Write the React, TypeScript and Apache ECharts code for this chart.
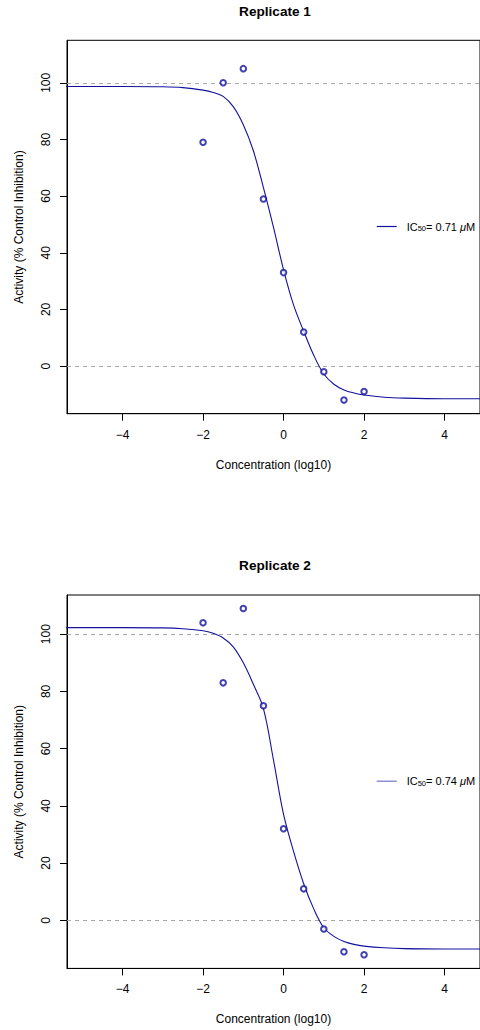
import React, { useEffect, useRef } from "react";
import * as echarts from "echarts";

// ---- data ----
const titles = ["Replicate 1", "Replicate 2"];
const ic50Labels = ["0.71", "0.74"];
const doseLog = [-2, -1.5, -1, -0.5, 0, 0.5, 1, 1.5, 2];
const rep1Activity = [79, 100, 105, 59, 33, 12, -2, -12, -9];
const rep2Activity = [104, 83, 109, 75, 32, 11, -3, -11, -12];
const curveX = [-5.5, -4, -3, -2.5, -2, -1.75, -1.5, -1.25, -1, -0.75, -0.5, -0.25, 0, 0.25, 0.5, 0.75, 1, 1.25, 1.5, 1.75, 2, 2.5, 3, 4, 5];
const curve1Y = [98.7, 98.7, 98.6, 98.3, 97.4, 96.6, 95.2, 91.6, 85.2, 76, 63, 49, 34, 21.5, 12.3, 3.8, -2.8, -6.4, -8.4, -9.5, -10.2, -11, -11.3, -11.5, -11.5];
const curve2Y = [102.3, 102.3, 102.2, 101.9, 101.2, 100.3, 98.7, 95.6, 90, 82.5, 74, 56, 37, 24, 12.8, 4, -2.6, -5.6, -7.4, -8.4, -9, -9.6, -9.9, -10, -10];
const xTicks = [-4, -2, 0, 2, 4];
const yTicks = [0, 20, 40, 60, 80, 100];
const refLines = [0, 100];
const xRange = [-5.38, 4.88];
const yRanges = [
  [-16.8, 115],
  [-16.8, 113.7],
];

const FONT = "'Liberation Sans', Arial, Helvetica, sans-serif";
const BLUE = "#12129e";

export default function App() {
  const ref = useRef<HTMLDivElement>(null);

  useEffect(() => {
    if (!ref.current) return;
    const chart = echarts.init(ref.current, null, { renderer: "svg" });

    const gridTops = [40.3, 595];
    const gridH = 373.4;
    const legendLineColors = [BLUE, "#7272c8"];
    const curves = [curve1Y, curve2Y];
    const reps = [rep1Activity, rep2Activity];
    const seriesNames = ["fit1", "fit2"];

    const minus = (v: number) => (v < 0 ? "\u2212" + Math.abs(v) : String(v));

    const option: any = {
      animation: false,
      backgroundColor: "#ffffff",
      textStyle: { fontFamily: FONT },
      title: titles.map((t, i) => ({
        text: t,
        left: 275,
        top: i === 0 ? 11.7 : 565.7,
        textAlign: "center",
        textVerticalAlign: "middle",
        padding: 0,
        textStyle: { fontFamily: FONT, fontWeight: "bold", fontSize: 13.6, color: "#000" },
      })),
      grid: gridTops.map((top) => ({
        left: 67,
        top,
        width: 416.5,
        height: gridH,
        show: true,
        borderColor: "#000",
        borderWidth: 1,
      })),
      xAxis: gridTops.map((_, i) => ({
        type: "value",
        gridIndex: i,
        min: xRange[0],
        max: xRange[1],
        name: "Concentration (log10)",
        nameLocation: "middle",
        nameGap: 45,
        nameTextStyle: { fontFamily: FONT, fontSize: 12, color: "#000" },
        axisLine: { show: true, onZero: false, lineStyle: { color: "#000", width: 1 } },
        splitLine: { show: false },
        axisTick: { show: true, length: 7, customValues: xTicks, lineStyle: { color: "#000", width: 1 } },
        axisLabel: {
          customValues: xTicks,
          margin: 15,
          fontFamily: FONT,
          fontSize: 12,
          color: "#000",
          formatter: (v: number) => minus(v),
        },
      })),
      yAxis: gridTops.map((_, i) => ({
        type: "value",
        gridIndex: i,
        min: yRanges[i][0],
        max: yRanges[i][1],
        name: "Activity (% Control Inhibition)",
        nameLocation: "middle",
        nameGap: 42,
        nameTextStyle: { fontFamily: FONT, fontSize: 12, color: "#000" },
        axisLine: { show: true, onZero: false, lineStyle: { color: "#000", width: 1 } },
        splitLine: { show: false },
        axisTick: { show: true, length: 7, customValues: yTicks, lineStyle: { color: "#000", width: 1 } },
        axisLabel: {
          customValues: yTicks,
          rotate: 90,
          margin: 15,
          fontFamily: FONT,
          fontSize: 12,
          color: "#000",
        },
      })),
      legend: gridTops.map((top, i) => ({
        data: [seriesNames[i]],
        left: 376.7,
        top: top + gridH / 2 - 6,
        padding: 0,
        icon: "rect",
        itemWidth: 20,
        itemHeight: 1.2,
        itemStyle: { color: legendLineColors[i] },
        formatter: () => `{n|IC}{s|50}{n|= ${ic50Labels[i]} }{i|\u03bc}{n|M}`,
        textStyle: {
          fontFamily: FONT,
          color: "#000",
          fontSize: 11,
          padding: [0, 0, 0, 5],
          rich: {
            n: { fontFamily: FONT, fontSize: 11, color: "#000" },
            s: { fontFamily: FONT, fontSize: 7.5, color: "#000", verticalAlign: "bottom", padding: [4, 0, 0, 0] },
            i: { fontFamily: FONT, fontSize: 11, color: "#000", fontStyle: "italic" },
          },
        },
        selectedMode: false,
      })),
      series: [
        ...gridTops.map((_, i) => ({
          name: seriesNames[i],
          type: "line",
          xAxisIndex: i,
          yAxisIndex: i,
          data: curveX.map((x, k) => [x, curves[i][k]]),
          smooth: 0.35,
          symbol: "none",
          clip: true,
          lineStyle: { color: BLUE, width: 1.1 },
          itemStyle: { color: legendLineColors[i] },
          z: 3,
        })),
        ...gridTops.map((_, i) => ({
          name: "obs" + (i + 1),
          type: "scatter",
          xAxisIndex: i,
          yAxisIndex: i,
          data: doseLog.map((x, k) => [x, reps[i][k]]),
          symbol: "emptyCircle",
          symbolSize: 5.5,
          itemStyle: { color: BLUE, borderColor: BLUE, borderWidth: 0.9 },
          z: 4,
          markLine: {
            silent: true,
            symbol: "none",
            label: { show: false },
            lineStyle: { type: [4, 4], color: "#a8a8a8", width: 1 },
            data: refLines.map((v) => ({ yAxis: v })),
            z: 1,
          },
        })),
      ],
    };

    chart.setOption(option);
    return () => chart.dispose();
  }, []);

  return (
    <div style={{ position: "absolute", left: 0, top: 0, width: 480, height: 1030, background: "#fff" }}>
      <div ref={ref} style={{ width: 480, height: 1030 }} />
    </div>
  );
}
